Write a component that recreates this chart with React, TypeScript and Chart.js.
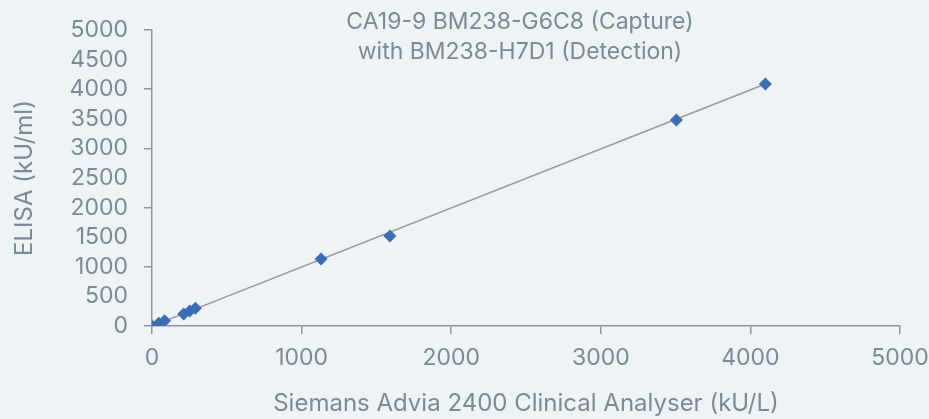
import React, { useEffect, useRef } from "react";
import { Chart, registerables } from "chart.js";

Chart.register(...registerables);

const titleLines = ["CA19-9 BM238-G6C8 (Capture)", "with BM238-H7D1 (Detection)"];
const xAxisTitle = "Siemans Advia 2400 Clinical Analyser (kU/L)";
const yAxisTitle = "ELISA (kU/ml)";

const siemensValues = [0, 45, 84, 212, 252, 290, 1130, 1590, 3505, 4100];
const elisaValues = [0, 45, 89, 203, 253, 299, 1132, 1520, 3480, 4088];

const trendX = [0, 4100];
const trendY = [0, 4088];

const BG = "#eef3f6";
const TEXT = "#7c8a98";
const AXIS = "#8a96a2";
const FONT = "Inter, 'Open Sans', sans-serif";

const titlePlugin = {
  id: "overlayTitle",
  afterDraw(chart: any) {
    const { ctx, chartArea } = chart;
    const cx = (chartArea.left + chartArea.right) / 2 - 6;
    ctx.save();
    ctx.fillStyle = TEXT;
    ctx.font = `23px ${FONT}`;
    ctx.textAlign = "center";
    ctx.textBaseline = "middle";
    ctx.fillText(titleLines[0], cx, 22);
    ctx.fillText(titleLines[1], cx, 52);
    ctx.restore();
  },
};

const bgPlugin = {
  id: "bg",
  beforeDraw(chart: any) {
    const { ctx, width, height } = chart;
    ctx.save();
    ctx.fillStyle = BG;
    ctx.fillRect(0, 0, width, height);
    ctx.restore();
  },
};

const yTickColor = (c: any) =>
  c.tick && Math.round(c.tick.value) % 1000 === 0 ? AXIS : "rgba(0,0,0,0)";

export default function App() {
  const ref = useRef<HTMLCanvasElement>(null);
  useEffect(() => {
    document.body.style.margin = "0";
    document.body.style.background = BG;
    const points = siemensValues.map((x, i) => ({ x, y: elisaValues[i] }));
    const trend = trendX.map((x, i) => ({ x, y: trendY[i] }));
    const chart = new Chart(ref.current!, {
      type: "scatter",
      data: {
        datasets: [
          {
            type: "line",
            data: trend,
            borderColor: "#9a9a9a",
            borderWidth: 1.5,
            pointRadius: 0,
            fill: false,
            order: 2,
          } as any,
          {
            data: points,
            pointStyle: "rectRot",
            pointRadius: 6.5,
            backgroundColor: "#3a6db3",
            borderColor: "#3a6db3",
            borderWidth: 0,
            order: 1,
          },
        ],
      },
      options: {
        responsive: false,
        animation: false,
        layout: { padding: { top: 30, right: 29, left: 0, bottom: 0 } },
        plugins: {
          legend: { display: false },
          title: { display: false },
          tooltip: { enabled: false },
        },
        scales: {
          x: {
            type: "linear",
            min: 0,
            max: 5000,
            afterFit(scale: any) {
              scale.height = 93;
              scale.paddingRight = 0;
              scale.paddingLeft = 0;
            },
            border: { display: true, color: AXIS, width: 1.5 },
            grid: {
              drawOnChartArea: false,
              drawTicks: true,
              tickLength: 8,
              color: AXIS,
              tickColor: AXIS,
              lineWidth: 1.5,
              tickWidth: 1.5,
            },
            ticks: {
              stepSize: 1000,
              autoSkip: false,
              color: TEXT,
              font: { family: FONT, size: 23 },
              padding: 10,
              maxRotation: 0,
              callback: (v: any) => String(v),
            },
            title: {
              display: true,
              text: xAxisTitle,
              color: TEXT,
              font: { family: FONT, size: 24 },
              padding: { top: 0, bottom: 1 },
            },
          },
          y: {
            type: "linear",
            min: 0,
            max: 5000,
            afterFit(scale: any) {
              scale.width = 152;
              scale.paddingTop = 0;
              scale.paddingBottom = 0;
            },
            border: { display: true, color: AXIS, width: 1.5 },
            grid: {
              drawOnChartArea: false,
              drawTicks: true,
              tickLength: 8,
              color: yTickColor,
              tickColor: yTickColor,
              lineWidth: 1.5,
              tickWidth: 1.5,
            },
            ticks: {
              stepSize: 500,
              autoSkip: false,
              color: TEXT,
              font: { family: FONT, size: 23 },
              padding: 16,
              callback: (v: any) => String(v),
            },
            title: {
              display: true,
              text: yAxisTitle,
              color: TEXT,
              font: { family: FONT, size: 24 },
              padding: { top: 10, bottom: 0 },
            },
          },
        },
      },
      plugins: [bgPlugin, titlePlugin],
    });
    return () => chart.destroy();
  }, []);
  return <canvas ref={ref} width={929} height={419} style={{ display: "block" }} />;
}
